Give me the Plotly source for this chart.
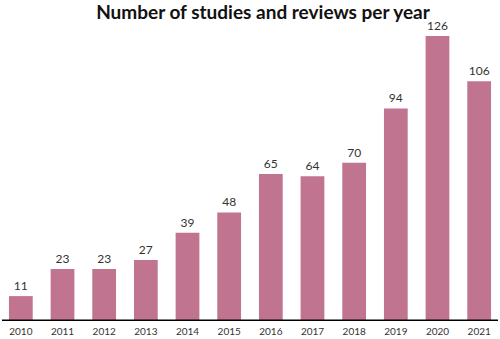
import plotly.graph_objects as go

years = ["2010", "2011", "2012", "2013", "2014", "2015", "2016", "2017", "2018", "2019", "2020", "2021"]
counts = [11, 23, 23, 27, 39, 48, 65, 64, 70, 94, 126, 106]

fig = go.Figure(go.Bar(
    x=years, y=counts,
    text=[str(c) for c in counts],
    textposition="outside",
    cliponaxis=False,
    textfont=dict(family="Lato", size=12, color="#333333"),
    marker=dict(color="#C0748F", line=dict(width=0)),
    width=0.57,
))

fig.update_layout(
    width=500, height=339,
    margin=dict(l=0, r=0, t=36, b=18, autoexpand=False),
    paper_bgcolor="white", plot_bgcolor="white",
    showlegend=False,
    title=dict(text="<b>Number of studies and reviews per year</b>",
               x=0.526, xanchor="center", y=0.965, yanchor="middle",
               font=dict(family="Lato", size=19, color="#111111")),
    xaxis=dict(type="category", range=[-0.5, 11.5], showgrid=False, zeroline=False,
               showline=False, ticks="", automargin=False, ticklabelstandoff=3,
               tickfont=dict(family="Lato", size=10, color="#333333")),
    yaxis=dict(range=[0, 126], visible=False, showgrid=False),
    shapes=[dict(type="line", xref="paper", yref="y", x0=0.004, x1=0.996, y0=0, y1=0,
                 line=dict(color="black", width=3))],
)

fig.write_html("out.html", config={"displayModeBar": False},
               post_script="document.body.style.margin='0';")
